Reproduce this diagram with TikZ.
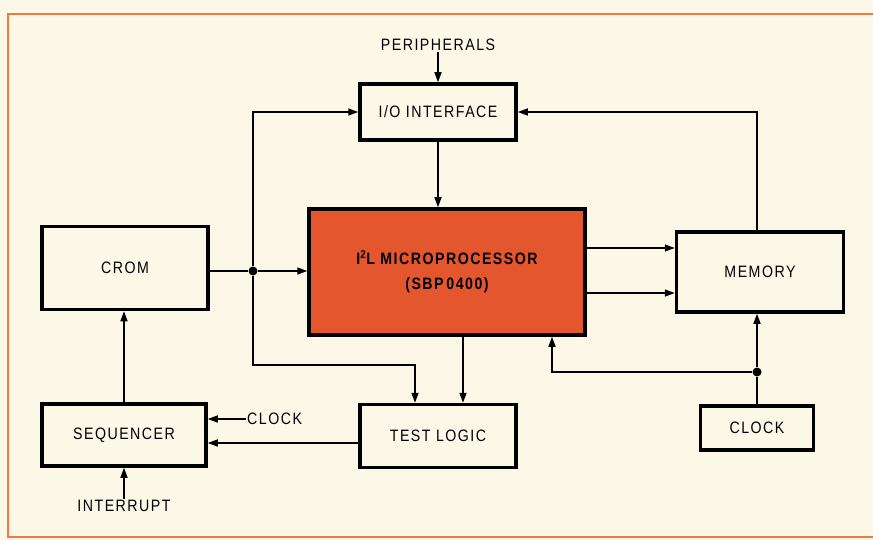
\documentclass[tikz,border=0pt]{standalone}
\usepackage{fontspec}
\setmainfont{Liberation Sans}[FakeStretch=0.86, LetterSpace=9]
\usetikzlibrary{positioning,arrows.meta}
\definecolor{paper}{HTML}{FBF8E7}
\definecolor{frameor}{HTML}{F07A3A}
\definecolor{chip}{HTML}{E4572E}

\begin{document}
\begin{tikzpicture}[x=1pt, y=-1pt,
  blk/.style={draw, line width=3.5pt, font=\fontsize{16.5}{18}\selectfont,
              align=center, inner sep=0pt},
  cpu/.style={blk, fill=chip, font=\fontsize{16.5}{25}\selectfont\bfseries},
  arr/.style={-{Triangle[length=10pt, width=7pt]}, line width=1.5pt},
  wire/.style={line width=1.5pt},
  lab/.style={font=\fontsize{16.5}{18}\selectfont, inner sep=1pt},
  jdot/.style={circle, fill, inner sep=0pt, minimum size=9pt},
]

% ====== paper and frame ======
\useasboundingbox[fill=paper] (0,0) rectangle (873,540);
\draw[frameor, line width=2.5pt] (8,14) rectangle (890,537);

% ====== blocks ======
\node[blk] (io)   at (438,112) [minimum width=156pt, minimum height=56pt] {I/O INTERFACE};
\node[cpu] (mp)   at (447,272) [minimum width=276pt, minimum height=126pt]
  {I\textsuperscript{2}L MICROPROCESSOR\\(SBP\,0400)};
\node[blk] (crom) at (125,268) [minimum width=166pt, minimum height=83pt] {CROM};
\node[blk] (mem)  at (760,272) [minimum width=167pt, minimum height=80pt] {MEMORY};
\node[blk] (seq)  at (124,435) [minimum width=164pt, minimum height=62pt] {SEQUENCER};
\node[blk] (tl)   at (438,436) [minimum width=156pt, minimum height=63pt] {TEST LOGIC};
\node[blk] (clk)  at (757,428) [minimum width=113pt, minimum height=44pt] {CLOCK};

% ====== outside signals ======
\node[lab] (peri)  at (438,45)  {PERIPHERALS};
\node[lab] (intr)  at (124,506) {INTERRUPT};
\node[lab, anchor=west] (clkin) at (246,419) {CLOCK};

% junctions
\node[jdot] (j1) at (253,271) {};
\node[jdot] (j2) at (757,372) {};
\coordinate (bend) at (415,365);

% ====== connectors ======
\draw[arr] (peri) -- (peri |- io.north);
\draw[arr] (io.south) -- (io.south |- mp.north);
\draw[wire] (crom.east |- j1) -- (j1);
\draw[arr] (j1) -- (mp.west |- j1);
\draw[arr] (j1) |- (io.west);
\draw[arr] (j1) |- (bend) -- (bend |- tl.north);
\draw[arr] ([xshift=16pt]mp.south) -- ([xshift=16pt]mp.south |- tl.north);
\draw[arr] ([yshift=24pt]mp.east) -- ([yshift=24pt]mp.east -| mem.west);
\draw[arr] ([yshift=-21pt]mp.east) -- ([yshift=-21pt]mp.east -| mem.west);
\draw[arr] (j2 |- mem.north) |- (io.east);
\draw[wire] (clk) -- (j2);
\draw[arr] (j2) -- (j2 |- mem.south);
\draw[arr] (j2) -| ([xshift=105pt]mp.south);
\draw[arr] (seq.north) -- (seq.north |- crom.south);
\draw[arr] (intr) -- (intr |- seq.south);
\draw[arr] (clkin.west) -- (clkin.west -| seq.east);
\draw[arr] ([yshift=-7pt]tl.west) -- ([yshift=-7pt]tl.west -| seq.east);

\end{tikzpicture}
\end{document}
